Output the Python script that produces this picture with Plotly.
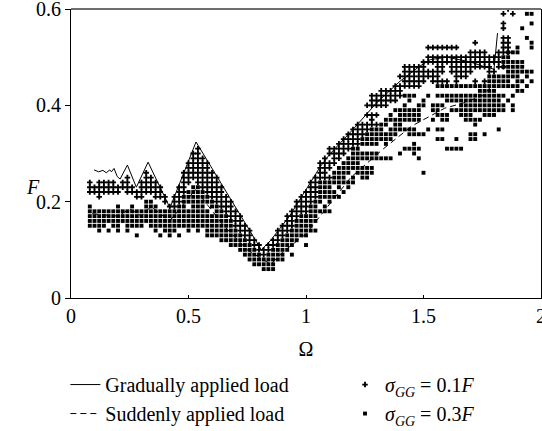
import plotly.graph_objects as go

# Column positions (Omega) of the scattered results
omega_cols = [round(0.08 + 0.02 * i, 2) for i in range(95)]

# F values (x 1/100) per column, sigma_GG = 0.1F (crosses)
cross_F = [
    [24, 23, 22], [23, 22], [24, 23, 22, 21], [24, 23, 22], [24, 23, 22], [24, 23, 22],
    [23, 22], [24, 23], [25, 24, 23, 22], [23, 22], [22, 21], [24, 23, 22, 21],
    [26, 25, 24, 23, 22], [25, 24, 23, 22], [24, 23, 22, 21], [23, 22, 21], [21, 20], [19],
    [21, 20, 19], [23, 22, 21, 20], [26, 25, 24, 23, 22], [28, 27, 26, 25, 24],
    [30, 29, 28, 27, 26, 25], [31, 30, 29, 28, 27, 26, 25, 24], [29, 28, 27, 26, 25, 24, 23],
    [28, 27, 26, 25, 24, 23, 22], [26, 25, 24, 23, 22, 21], [25, 24, 23, 22, 21, 20],
    [23, 22, 21, 20, 19], [21, 20, 19, 18], [20, 19, 18, 17], [18, 17, 16, 15], [17, 16, 15, 14],
    [15, 14, 13], [14, 13, 12], [12, 11], [11, 10], [10, 9], [11, 10], [12, 11], [14, 13, 12],
    [15, 14, 13], [17, 16, 15, 14], [18, 17, 16, 15], [20, 19, 18, 17], [21, 20, 19, 18],
    [22, 21, 20, 19, 18], [24, 23, 22, 21, 20], [25, 24, 23, 22, 21], [28, 27, 26, 25],
    [29, 28, 27, 26, 25], [31, 30, 28, 27, 25], [31, 30, 29, 28], [32, 31, 30, 29],
    [33, 32, 31, 30], [34, 33, 32, 31], [35, 34, 33, 32], [36, 35, 34, 33, 32], [36, 35, 34],
    [40, 38, 36, 35], [42, 41, 40, 38, 37, 36], [42, 41, 40, 38, 36], [43, 42, 41, 40],
    [43, 42, 41, 40], [43, 42, 41], [44, 43, 42, 41], [46, 44, 43, 42], [48, 47, 46, 45, 44],
    [48, 47, 46, 45, 44], [48, 47, 46, 45, 44], [48, 47, 46, 45, 44], [49, 48, 47, 46, 45],
    [52, 50, 49, 47, 46], [52, 50, 49, 47, 46, 45], [52, 50, 49, 48, 47, 46, 45],
    [52, 50, 49, 48, 47, 45], [52, 50, 49, 45], [52, 50, 49, 48, 47], [52, 50, 49, 48, 47, 46, 45],
    [50, 49, 48, 47, 46], [50, 49, 48, 47, 46], [51, 50, 49, 48, 47], [53, 51, 50, 49, 48, 45],
    [51, 50, 49, 48], [51, 50, 49, 48, 45], [50, 49, 48, 47], [50, 49, 47], [51, 50, 49, 48],
    [59, 57, 56, 54, 53, 52, 51, 48], [60, 54, 53, 52, 51], [59], [], [], [], [],
]

# F values (x 1/100) per column, sigma_GG = 0.3F (squares)
square_F = [
    [19, 18, 17, 16, 15], [18, 17, 16, 15], [18, 17, 16, 15, 14], [18, 17, 16, 15],
    [18, 17, 16, 14], [18, 17, 16, 15], [19, 18, 17, 16, 15, 14], [18, 17, 16],
    [18, 17, 16, 15, 14], [19, 18, 17, 16, 15], [18, 17, 16, 15, 13], [18, 17, 16, 15],
    [20, 19, 18, 17, 16], [20, 19, 18, 17, 16, 15], [19, 18, 17, 16, 15, 14], [18, 17, 16, 15, 13],
    [18, 17, 16, 15, 14], [18, 17, 16, 15, 14, 13], [18, 17, 16, 15, 14], [19, 18, 17, 16, 15, 13],
    [21, 20, 19, 18, 17, 16, 15], [22, 21, 20, 18, 17, 16, 15, 14],
    [23, 22, 21, 20, 19, 18, 17, 16, 15], [23, 22, 21, 20, 19, 18, 17, 16, 15, 14],
    [22, 21, 20, 19, 18, 17, 16, 15], [21, 20, 18, 17, 16, 15, 14, 13],
    [20, 19, 17, 16, 15, 14, 13], [19, 18, 17, 16, 15, 14, 13], [18, 17, 16, 15, 14, 13, 12],
    [17, 16, 15, 14, 13, 12], [16, 15, 14, 13, 12, 11], [14, 13, 12, 11], [13, 12, 11, 10],
    [12, 11, 10, 9], [11, 10, 9, 8], [10, 9, 8, 7], [9, 8, 7], [8, 7, 6], [9, 8, 7, 6],
    [10, 9, 8, 7, 6], [11, 10, 9, 8], [12, 11, 10, 9, 8], [13, 12, 11, 10], [14, 13, 12, 11, 9],
    [16, 15, 14, 13, 12], [17, 16, 15, 14, 13], [17, 16, 15, 14, 13, 11], [19, 18, 17, 16, 15, 14],
    [20, 19, 18, 17, 16, 14], [24, 23, 22, 21, 20, 18], [24, 23, 22, 21, 19, 18],
    [24, 23, 22, 21, 20, 18], [26, 25, 24, 22, 21], [27, 26, 25, 24, 23, 21],
    [28, 27, 26, 25, 24, 22], [29, 28, 27, 26, 24, 23], [31, 30, 29, 28, 27, 25, 24],
    [31, 30, 29, 28, 27, 26], [33, 32, 30, 29, 27, 26, 25], [34, 33, 32, 30, 29, 27, 26, 25],
    [35, 34, 33, 32, 30, 29, 27, 26], [35, 34, 33, 32, 30, 29], [36, 35, 34, 33, 29],
    [37, 36, 34, 33, 32, 29], [38, 37, 35, 34, 33, 29], [39, 37, 36, 35, 34],
    [39, 38, 37, 36, 35, 30], [42, 40, 39, 38, 37, 35, 31], [42, 41, 39, 38, 37, 35, 34, 31],
    [42, 39, 38, 37, 35, 34, 32, 31, 30], [40, 39, 38, 37, 34, 31, 29], [41, 40, 34, 26],
    [42, 35], [40, 39, 37], [44, 42, 40, 39, 38, 35, 33], [44, 42, 40, 38, 37, 35, 33],
    [44, 42, 41, 38, 37, 31], [44, 42, 41, 39, 31], [44, 42, 41, 39, 33, 31],
    [44, 42, 41, 40, 39, 38, 31], [44, 42, 41, 40, 39, 38, 37],
    [44, 42, 41, 40, 39, 38, 37, 34, 33], [44, 42, 41, 40, 39, 37, 36, 34, 33],
    [44, 43, 42, 41, 40, 39, 37], [44, 43, 42, 41, 40, 39, 38, 34],
    [46, 45, 44, 43, 42, 41, 40, 39, 38], [46, 45, 44, 43, 42, 41, 40, 39, 38],
    [46, 45, 44, 42, 41, 40, 39, 35], [50, 49, 48, 46, 45, 44, 42, 40, 39],
    [51, 50, 49, 48, 47, 46, 45, 44, 41], [51, 49, 48, 47, 46, 44, 42, 40, 39],
    [52, 51, 49, 48, 47, 46, 45, 44, 43], [56, 49, 48, 47, 45, 43], [59, 54, 47, 46, 44],
    [59, 57, 53, 52, 47, 45],
]

# Gradually applied load (solid line)
gradual_omega = [0.098, 0.118, 0.136, 0.150, 0.165, 0.172, 0.183, 0.197, 0.209, 0.24, 0.278,
                 0.328, 0.421, 0.532, 0.81, 0.85, 0.93, 1.0, 1.06, 1.10, 1.20, 1.30, 1.40,
                 1.48, 1.53, 1.60, 1.70, 1.76, 1.80, 1.815]
gradual_F = [0.266, 0.262, 0.265, 0.260, 0.266, 0.262, 0.269, 0.252, 0.247, 0.276, 0.230,
             0.282, 0.187, 0.324, 0.10, 0.12, 0.17, 0.225, 0.272, 0.298, 0.35, 0.405, 0.45,
             0.48, 0.495, 0.50, 0.49, 0.48, 0.475, 0.55]

# Suddenly applied load (dashed line)
sudden_omega = [0.09, 0.2, 0.25, 0.3, 0.34, 0.42, 0.53, 0.65, 0.75, 0.85, 0.90, 1.0, 1.19,
                1.26, 1.33, 1.45, 1.59, 1.67, 1.75, 1.80]
sudden_F = [0.175, 0.17, 0.185, 0.17, 0.19, 0.16, 0.225, 0.15, 0.10, 0.07, 0.095, 0.133, 0.25,
            0.28, 0.31, 0.357, 0.394, 0.405, 0.42, 0.445]

x_ticks = [0, 0.5, 1, 1.5, 2]
x_tick_text = ["0", "0.5", "1", "1.5", "2"]
y_ticks = [0, 0.2, 0.4, 0.6]
y_tick_text = ["0", "0.2", "0.4", "0.6"]

FONT = "Liberation Serif, Times New Roman, serif"


def flatten(cols, lists):
    xs, ys = [], []
    for om, vals in zip(cols, lists):
        for v in vals:
            xs.append(om)
            ys.append(v / 100)
    return xs, ys


cx, cy = flatten(omega_cols, cross_F)
sx, sy = flatten(omega_cols, square_F)

fig = go.Figure()
fig.add_trace(go.Scatter(
    x=sx, y=sy, mode="markers", name="<i>σ</i><sub><i>GG</i></sub> = 0.3<i>F</i>",
    marker=dict(symbol="square", size=3.9, color="black", line=dict(width=0)),
    legend="legend2", legendrank=2,
))
fig.add_trace(go.Scatter(
    x=cx, y=cy, mode="markers", name="<i>σ</i><sub><i>GG</i></sub> = 0.1<i>F</i>",
    marker=dict(symbol="cross", size=4.6, color="black", line=dict(width=0)),
    legend="legend2", legendrank=1,
))
fig.add_trace(go.Scatter(
    x=sudden_omega, y=sudden_F, mode="lines", name="Suddenly applied load",
    line=dict(color="black", width=1, dash="6px,4px"), legend="legend", legendrank=2,
))
fig.add_trace(go.Scatter(
    x=gradual_omega, y=gradual_F, mode="lines", name="Gradually applied load",
    line=dict(color="black", width=1), legend="legend", legendrank=1,
))

legend_common = dict(
    orientation="v", y=-0.232, yanchor="top", xanchor="left",
    font=dict(family=FONT, size=20, color="black"),
    bgcolor="rgba(0,0,0,0)", tracegroupgap=0, itemsizing="trace",
)

fig.update_layout(
    width=542, height=431,
    margin=dict(l=71, r=1, t=9, b=133, autoexpand=False),
    paper_bgcolor="white", plot_bgcolor="white",
    font=dict(family=FONT, size=20, color="black"),
    showlegend=True,
    legend=dict(x=-0.012, **legend_common),
    legend2=dict(x=0.583, **legend_common),
    xaxis=dict(
        range=[0, 2], tickvals=x_ticks, ticktext=x_tick_text, showgrid=False, zeroline=False,
        showline=True, linecolor="black", linewidth=1, mirror=False,
        ticks="inside", ticklen=3, tickcolor="black", automargin=False,
        ticklabeloverflow="allow",
        tickfont=dict(family=FONT, size=20),
        title=dict(text="Ω", font=dict(family=FONT, size=20), standoff=15),
    ),
    yaxis=dict(
        range=[0, 0.6], tickvals=y_ticks, ticktext=y_tick_text, showgrid=False, zeroline=False,
        showline=True, linecolor="black", linewidth=1, mirror=True, automargin=False,
        ticks="outside", ticklen=5, tickcolor="black", ticklabeloverflow="allow",
        tickfont=dict(family=FONT, size=20),
    ),
    shapes=[dict(type="line", xref="paper", yref="paper", x0=0, x1=1, y0=1, y1=1,
                 line=dict(color="#6e6e6e", width=2))],
    annotations=[dict(text="<i>F</i>", xref="paper", yref="paper", x=-0.1, y=0.385,
                      showarrow=False, font=dict(family=FONT, size=20))],
)

fig.write_html("out.html")
